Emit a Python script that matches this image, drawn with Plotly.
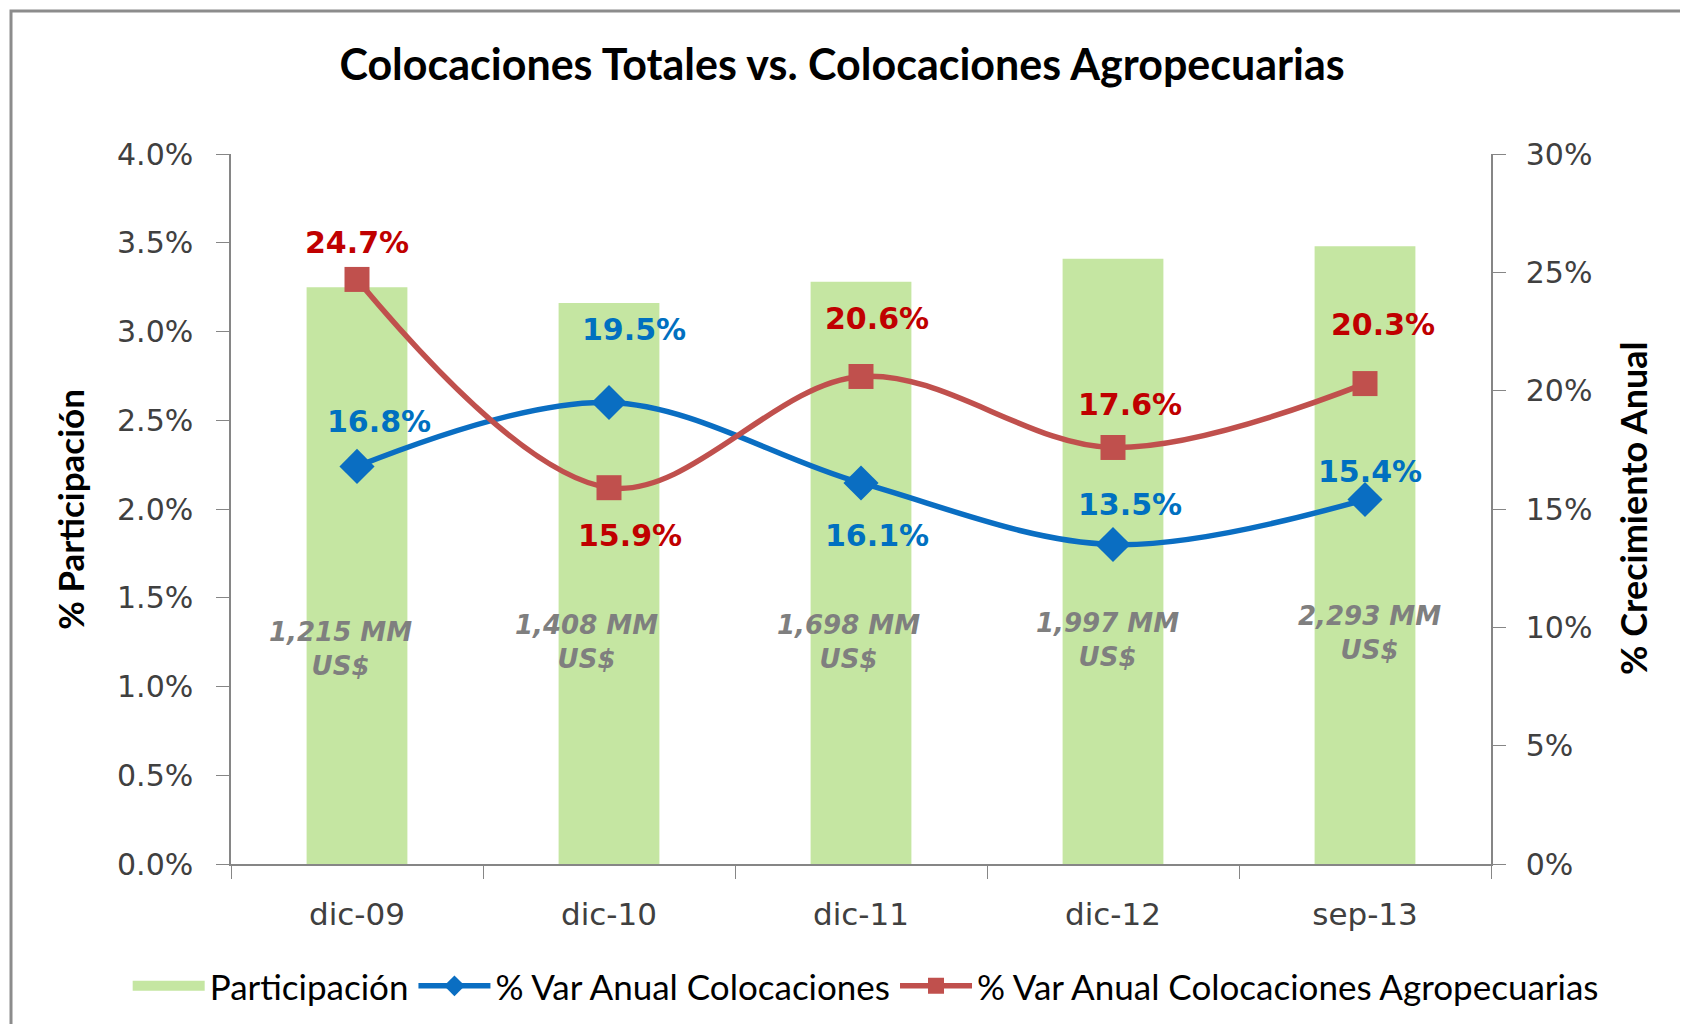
import plotly.graph_objects as go

categories = ["dic-09", "dic-10", "dic-11", "dic-12", "sep-13"]
participacion = [3.25, 3.16, 3.28, 3.41, 3.48]          # % (left axis)
var_colocaciones = [16.8, 19.5, 16.1, 13.5, 15.4]        # % (right axis)
var_agro = [24.7, 15.9, 20.6, 17.6, 20.3]                # % (right axis)
montos = ["1,215 MM<br>US$", "1,408 MM<br>US$", "1,698 MM<br>US$", "1,997 MM<br>US$", "2,293 MM<br>US$"]

# styling: label offsets in pixels
blue_off = [(22, 45), (25, 73), (16, -53), (17, 40), (5, 28)]
red_off = [(0, 37), (21, -48), (16, 58), (17, 43), (18, 59)]
monto_pos = [1.21, 1.25, 1.25, 1.26, 1.30]
monto_dx = [-17, -23, -13, -6, 4]

GREEN = "#C5E6A2"
BLUE = "#0A6EC2"
RED = "#C0504D"
CAL = "Lato, 'Liberation Sans', sans-serif"
VER = "'DejaVu Sans', Verdana, sans-serif"

fig = go.Figure()
fig.add_trace(go.Bar(x=categories, y=participacion, name="Participación", showlegend=False,
                     marker=dict(color=GREEN, line=dict(width=0)), yaxis="y"))
# legend entry for the bars (wide green swatch)
fig.add_trace(go.Scatter(x=[None], y=[None], name="Participación", mode="lines",
                         line=dict(color=GREEN, width=20), yaxis="y", hoverinfo="skip"))
fig.add_trace(go.Scatter(x=categories, y=var_colocaciones, name="% Var Anual Colocaciones",
                         mode="lines+markers", yaxis="y2",
                         line=dict(color=BLUE, width=5.5, shape="spline", smoothing=1),
                         marker=dict(symbol="diamond", size=27, color=BLUE)))
fig.add_trace(go.Scatter(x=categories, y=var_agro, name="% Var Anual Colocaciones Agropecuarias",
                         mode="lines+markers", yaxis="y2",
                         line=dict(color=RED, width=5.5, shape="spline", smoothing=1),
                         marker=dict(symbol="square", size=25, color=RED)))

ann = []
for i, c in enumerate(categories):
    dx, dy = blue_off[i]
    ann.append(dict(x=c, y=var_colocaciones[i], xref="x", yref="y2", text=f"{var_colocaciones[i]:.1f}%",
                    showarrow=False, xshift=dx, yshift=dy,
                    font=dict(family=VER, size=30, color="#0070C0", weight="bold")))
    dx, dy = red_off[i]
    ann.append(dict(x=c, y=var_agro[i], xref="x", yref="y2", text=f"{var_agro[i]:.1f}%",
                    showarrow=False, xshift=dx, yshift=dy,
                    font=dict(family=VER, size=30, color="#C00000", weight="bold")))
    ann.append(dict(x=c, y=monto_pos[i], xref="x", yref="y", text=f"<i>{montos[i]}</i>",
                    showarrow=False, xshift=monto_dx[i],
                    font=dict(family=VER, size=26, color="#7F7F7F", weight="bold", style="italic")))

ann.append(dict(x=-0.128, y=0.5, xref="paper", yref="paper", text="<b>% Participación</b>",
                xanchor="center", yanchor="middle",
                textangle=-90, showarrow=False, font=dict(family=CAL, size=35, color="black")))
ann.append(dict(x=1.1127, y=0.5, xref="paper", yref="paper", text="<b>% Crecimiento Anual</b>",
                xanchor="center", yanchor="middle",
                textangle=-90, showarrow=False, font=dict(family=CAL, size=36, color="black")))

axis_common = dict(showline=True, linecolor="#868686", linewidth=1.5, ticks="outside",
                   tickcolor="#868686", ticklen=13, showgrid=False, zeroline=False,
                   tickfont=dict(family=VER, size=30, color="#404040"))

W, H = 1680, 1016  # page body has an 8px margin
fig.update_layout(
    width=W, height=H,
    margin=dict(l=223, r=197, t=146, b=160, autoexpand=False),
    paper_bgcolor="white", plot_bgcolor="white",
    bargap=0.6,
    title=dict(text="<b>Colocaciones Totales vs. Colocaciones Agropecuarias</b>",
               x=0.485, xref="paper", xanchor="center", y=1 - 57 / H, yanchor="middle",
               font=dict(family=CAL, size=43, color="black")),
    xaxis=dict(showline=True, linecolor="#868686", linewidth=1.5, ticks="outside",
               tickson="boundaries", tickcolor="#868686", ticklen=13, showgrid=False,
               tickfont=dict(family=VER, size=31, color="#404040"), ticklabelstandoff=22),
    yaxis=dict(range=[0, 4], dtick=0.5, tickformat=".1f", ticksuffix="%",
               ticklabelstandoff=17, **axis_common),
    yaxis2=dict(range=[0, 30], dtick=5, ticksuffix="%", overlaying="y", side="right",
                ticklabelstandoff=14, **axis_common),
    legend=dict(orientation="h", xref="paper", yref="paper",
                x=-0.082, xanchor="left", y=-0.172, yanchor="middle",
                font=dict(family=CAL, size=35, color="black"), itemwidth=72,
                traceorder="normal"),
    annotations=ann,
    shapes=[dict(type="rect", xref="paper", yref="paper", x0=-0.1746, x1=1.2, y0=-0.3, y1=1.2014,
                 line=dict(color="#8C8C8C", width=3), layer="below")],
)

fig.write_html("out.html")
